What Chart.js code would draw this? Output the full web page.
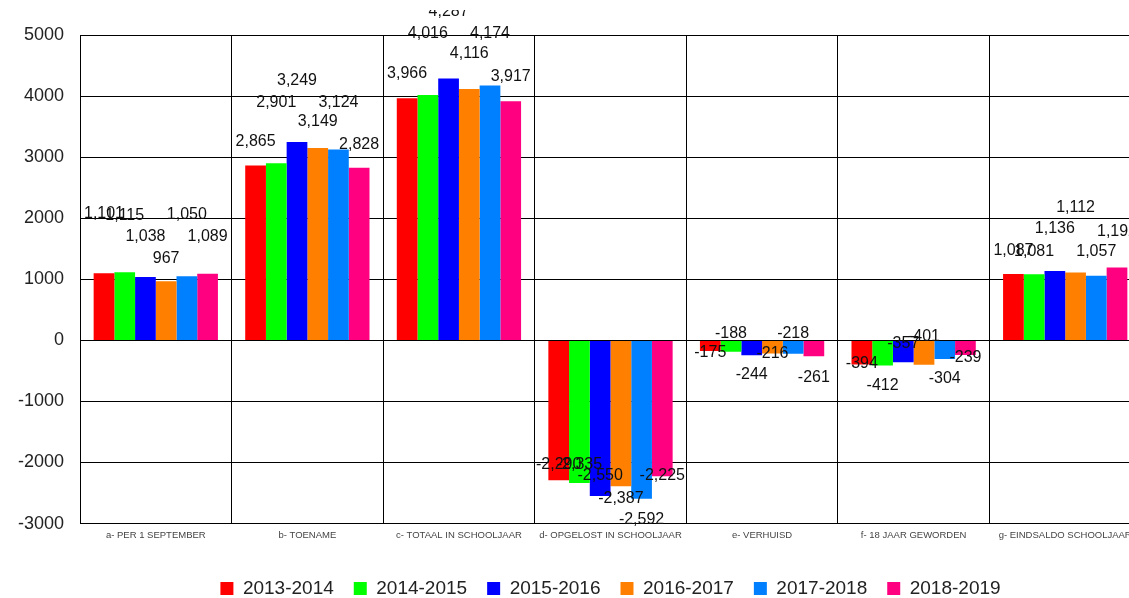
<!DOCTYPE html>
<html>
<head>
<meta charset="utf-8">
<script src="https://cdn.jsdelivr.net/npm/chart.js@4"></script>
<style>
  html, body { margin: 0; padding: 0; background: #fff; overflow: hidden; }
  #wrap { width: 1150px; height: 598px; position: relative; }
</style>
</head>
<body>
<div id="wrap"><canvas id="myChart"></canvas></div>
<script>
// categories
const categories = [
    'a- PER 1 SEPTEMBER',
    'b- TOENAME',
    'c- TOTAAL IN SCHOOLJAAR',
    'd- OPGELOST IN SCHOOLJAAR',
    'e- VERHUISD',
    'f- 18 JAAR GEWORDEN',
    'g- EINDSALDO SCHOOLJAAR'
];

// series values
const y2013 = [1101, 2865, 3966, -2290, -175, -394, 1087];
const y2014 = [1115, 2901, 4016, -2335, -188, -412, 1081];
const y2015 = [1038, 3249, 4287, -2550, -244, -357, 1136];
const y2016 = [967, 3149, 4116, -2387, -216, -401, 1112];
const y2017 = [1050, 3124, 4174, -2592, -218, -304, 1057];
const y2018 = [1089, 2828, 3917, -2225, -261, -239, 1192];

const seriesNames = ['2013-2014', '2014-2015', '2015-2016', '2016-2017', '2017-2018', '2018-2019'];
const seriesColors = ['#ff0000', '#00ff00', '#0000ff', '#ff8000', '#0080ff', '#ff0080'];

// value label shift from the bar end, in px (the original staggers them)
const labelShift = [
    [-60, -24, -25, -16, 2, -1, -23],
    [-57, -61, -62, -18, -18, 20, -23],
    [-40, -61, -67, -21, 19, -19, -42],
    [-23, -26, -35, 12, 0, -28, -65],
    [-62, -47, -52, 21, -20, 20, -24],
    [-37, -23, -25, -1, 21, 3, -36]
];

const allSeries = [y2013, y2014, y2015, y2016, y2017, y2018];
const FONT = '"Liberation Sans", Arial, sans-serif';

const valueLabels = {
    id: 'valueLabels',
    afterDatasetsDraw(chart) {
        const ctx = chart.ctx;
        ctx.save();
        ctx.beginPath();
        ctx.rect(0, 10, chart.width, chart.height);
        ctx.clip();
        ctx.font = '16px ' + FONT;
        ctx.fillStyle = '#111';
        ctx.textAlign = 'center';
        ctx.textBaseline = 'middle';
        chart.data.datasets.forEach((ds, di) => {
            const meta = chart.getDatasetMeta(di);
            meta.data.forEach((bar, i) => {
                const v = ds.data[i];
                ctx.fillText(v.toLocaleString('en-US'), bar.x, bar.y + labelShift[di][i]);
            });
        });
        ctx.restore();
    }
};

const ctx = document.getElementById('myChart').getContext('2d');

const chart = new Chart(ctx, {
    type: 'bar',
    data: {
        labels: categories,
        datasets: allSeries.map((vals, i) => ({
            label: seriesNames[i],
            data: vals,
            backgroundColor: seriesColors[i],
            borderWidth: 0,
            categoryPercentage: 0.82,
            barPercentage: 1.0
        }))
    },
    options: {
        responsive: true,
        maintainAspectRatio: false,
        animation: false,
        layout: {
            padding: { top: 35, right: 9, bottom: -10, left: 0 }
        },
        plugins: {
            tooltip: { enabled: false },
            legend: {
                position: 'bottom',
                fullSize: false,
                labels: {
                    boxWidth: 13,
                    boxHeight: 13,
                    padding: 20,
                    color: '#222',
                    font: { size: 19, family: FONT }
                }
            }
        },
        scales: {
            x: {
                grid: { color: '#000', lineWidth: 1, drawTicks: false, offset: true },
                border: { color: '#000' },
                afterFit(scale) { scale.height += 12; },
                ticks: {
                    color: '#444',
                    padding: 6,
                    maxRotation: 0,
                    autoSkip: false,
                    font: { size: 9.5, family: FONT }
                }
            },
            y: {
                min: -3000,
                max: 5000,
                grid: { color: '#000', lineWidth: 1, drawTicks: false },
                border: { color: '#000' },
                afterFit(scale) { scale.width = 80; },
                ticks: {
                    stepSize: 1000,
                    color: '#222',
                    padding: 16,
                    font: { size: 18, family: FONT },
                    callback: v => String(v)
                }
            }
        }
    },
    plugins: [valueLabels]
});
</script>
</body>
</html>
